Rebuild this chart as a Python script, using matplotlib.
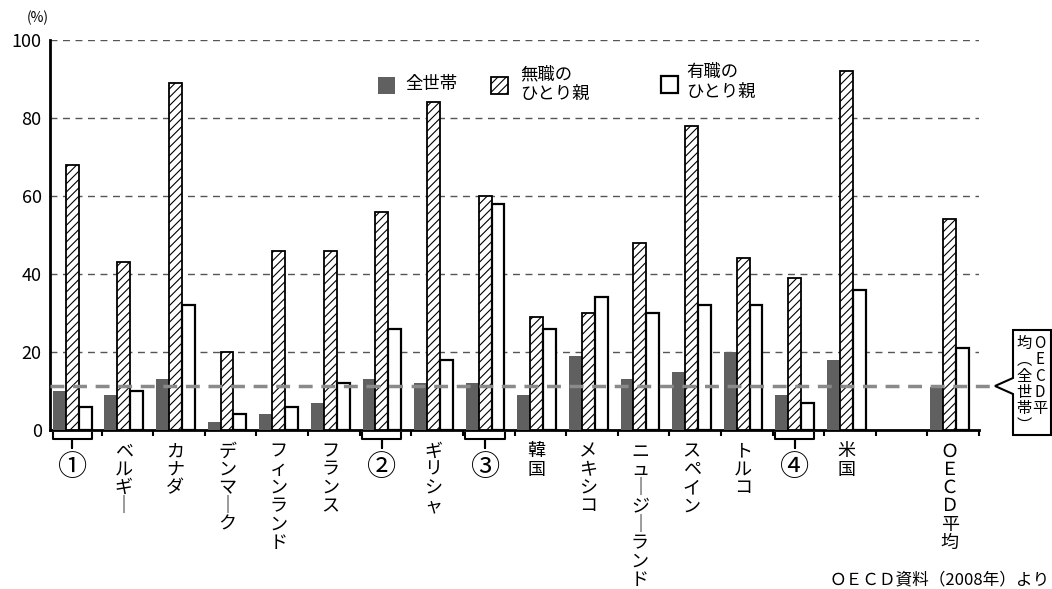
import numpy as np
import matplotlib.pyplot as plt
import matplotlib.transforms as mtransforms
from matplotlib.patches import Rectangle, Polygon

plt.rcParams['font.family'] = ['Noto Sans CJK JP', 'DejaVu Sans']
plt.rcParams['hatch.linewidth'] = 0.8

nan = np.nan
categories = ['①', 'ベルギー', 'カナダ', 'デンマーク', 'フィンランド', 'フランス', '②',
              'ギリシャ', '③', '韓国', 'メキシコ', 'ニュージーランド', 'スペイン', 'トルコ',
              '④', '米国', '', 'ＯＥＣＤ平均']
all_households = [10, 9, 13, 2, 4, 7, 13, 12, 12, 9, 19, 13, 15, 20, 9, 18, nan, 11]
jobless_single = [68, 43, 89, 20, 46, 46, 56, 84, 60, 29, 30, 48, 78, 44, 39, 92, nan, 54]
working_single = [6, 10, 32, 4, 6, 12, 26, 18, 58, 26, 34, 30, 32, 32, 7, 36, nan, 21]
oecd_mean = 11.3
yticks = [0, 20, 40, 60, 80, 100]
circled = ['①', '②', '③', '④']

W, H = 1052, 589
fig = plt.figure(figsize=(W / 100, H / 100), dpi=100)
ax = fig.add_axes([50 / W, 1 - 430 / H, 929 / W, 390 / H])

def vert(s):
    # stack characters top to bottom like vertical Japanese writing
    return '\n'.join('｜' if ch == 'ー' else ch for ch in s)

x = np.arange(len(categories))
ax.bar(x - 0.32, all_households, 0.25, color='#606060', zorder=3)
ax.bar(x - 0.07, jobless_single, 0.25, color='white', edgecolor='black',
       hatch='////', linewidth=1.3, zorder=3)
ax.bar(x + 0.18, working_single, 0.25, color='white', edgecolor='black',
       linewidth=1.6, zorder=3)

for y in yticks[1:]:
    ax.axhline(y, color='#555555', lw=1, ls=(0, (5, 4)), zorder=1)
ax.axhline(oecd_mean, xmin=0, xmax=(995 - 50) / 929, color='#8a8a8a', lw=2.5,
           ls=(0, (4, 2.5)), clip_on=False, zorder=5)

ax.set_xlim(-0.5, 17.5)
ax.set_ylim(0, 100)
ax.set_yticks(yticks)
ax.tick_params(axis='y', length=0, labelsize=13, pad=6)
ax.set_xticks(np.arange(0.5, 18, 1))
ax.set_xticklabels([])
ax.tick_params(axis='x', length=4, width=1.5, direction='out')
for s in ['top', 'right']:
    ax.spines[s].set_visible(False)
for s in ['left', 'bottom']:
    ax.spines[s].set_linewidth(2)

trans = mtransforms.blended_transform_factory(ax.transData, ax.transAxes)
for i, c in enumerate(categories):
    cx = i - 0.07
    if c in circled:
        # bracket under the group with a short stem in the middle
        bx = [cx - 0.38, cx - 0.38, cx, cx, cx, cx + 0.38, cx + 0.38]
        by = [-0.008, -0.022, -0.022, -0.045, -0.022, -0.022, -0.008]
        ax.plot(bx, by, color='black', lw=1.5, transform=trans, clip_on=False, zorder=6)
        ax.text(cx, -0.097, c, transform=trans, ha='center', va='center', fontsize=21)
    elif c:
        ax.text(cx, -0.032, vert(c), transform=trans, ha='center', va='top',
                fontsize=13, linespacing=1.02)

# legend
def px(xp, yp):
    return (xp / W, 1 - yp / H)

sq = 17
fig.add_artist(Rectangle(px(378, 94), sq / W, sq / H, transform=fig.transFigure,
                         facecolor='#606060', edgecolor='none'))
fig.text(405 / W, 1 - 84 / H, '全世帯', ha='left', va='center', fontsize=12.5)
fig.add_artist(Rectangle(px(491, 94), sq / W, sq / H, transform=fig.transFigure,
                         facecolor='white', edgecolor='black', hatch='////', lw=1.3))
fig.text(520 / W, 1 - 84 / H, '無職の\nひとり親', ha='left', va='center', fontsize=12.5,
         linespacing=1.1)
fig.add_artist(Rectangle(px(661, 93), sq / W, sq / H, transform=fig.transFigure,
                         facecolor='white', edgecolor='black', lw=1.6))
fig.text(686 / W, 1 - 82 / H, '有職の\nひとり親', ha='left', va='center', fontsize=12.5,
         linespacing=1.1)

# callout for the OECD mean line
pts = [(1013, 330), (1051, 330), (1051, 435), (1013, 435), (1013, 394), (995, 386), (1013, 378)]
fig.add_artist(Polygon([px(a, b) for a, b in pts], closed=True, transform=fig.transFigure,
                       facecolor='white', edgecolor='black', lw=1.5, zorder=6))
fig.text(1040 / W, 1 - 335 / H, vert('OECD平'), ha='center', va='top', fontsize=11,
         linespacing=0.95, zorder=7)
fig.text(1024 / W, 1 - 335 / H, vert('均︵全世帯︶'), ha='center', va='top', fontsize=11,
         linespacing=0.95, zorder=7)

fig.text(38 / W, 1 - 18 / H, '(%)', ha='center', va='center', fontsize=10)
fig.text(1050 / W, 1 - 580 / H, 'ＯＥＣＤ資料（2008年）より', ha='right', va='center',
         fontsize=12)

fig.savefig('out.png', dpi=100)
